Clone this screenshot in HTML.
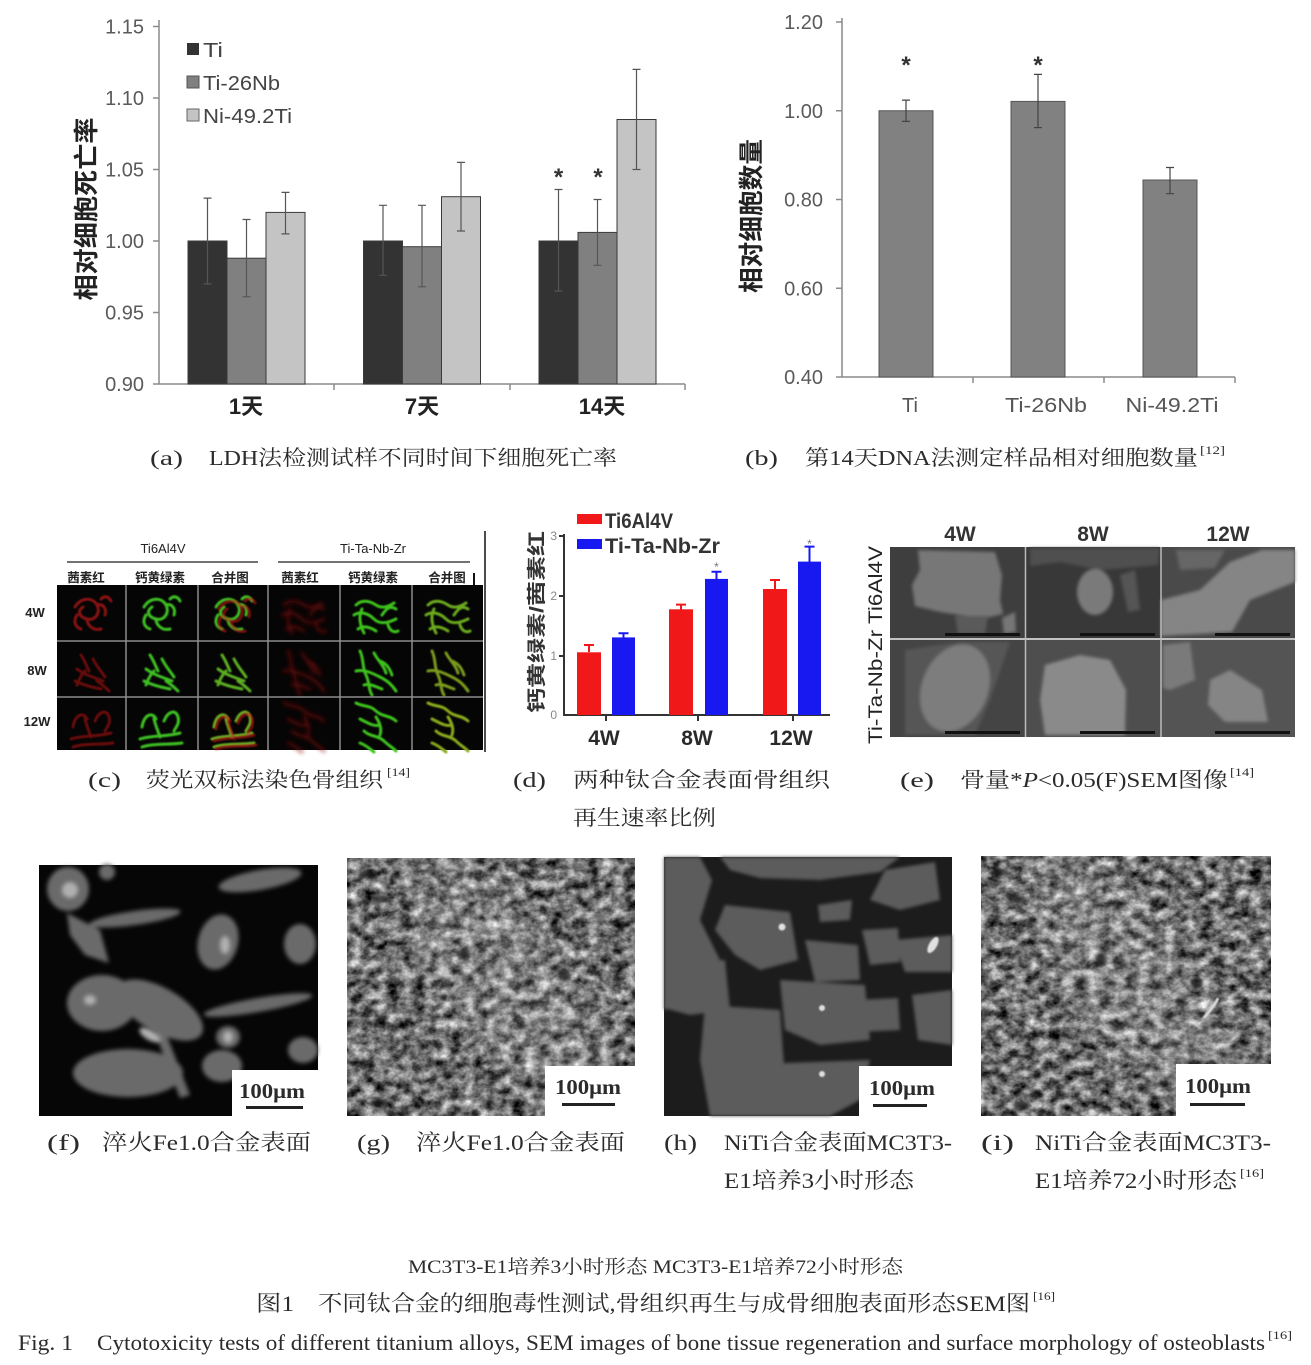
<!DOCTYPE html>
<html><head><meta charset="utf-8"><style>
html,body{margin:0;padding:0;background:#fff;}
svg{display:block;}
.s{font-family:"Liberation Sans","Noto Sans CJK SC",sans-serif;}
.c{font-family:"Liberation Serif","Noto Serif CJK SC",serif;fill:#2b2b2b;}
</style></head><body>
<svg width="1311" height="1365" viewBox="0 0 1311 1365" xmlns="http://www.w3.org/2000/svg">
<defs>
<filter id="b08" x="-20%" y="-20%" width="140%" height="140%"><feGaussianBlur stdDeviation="0.8"/></filter>
<filter id="b15" x="-20%" y="-20%" width="140%" height="140%"><feGaussianBlur stdDeviation="1.5"/></filter>
<filter id="b2" x="-20%" y="-20%" width="140%" height="140%"><feGaussianBlur stdDeviation="2.2"/></filter>
<filter id="b12" x="-50%" y="-50%" width="200%" height="200%"><feGaussianBlur stdDeviation="14"/></filter>
<filter id="nz" x="0" y="0" width="1" height="1" color-interpolation-filters="sRGB">
<feTurbulence type="fractalNoise" baseFrequency="0.08 0.1" numOctaves="4" seed="4"/>
<feColorMatrix type="matrix" values="1.3 0 0 0 -0.22  1.3 0 0 0 -0.22  1.3 0 0 0 -0.22  0 0 0 0 1"/>
</filter>
<filter id="nz2" x="0" y="0" width="1" height="1" color-interpolation-filters="sRGB">
<feTurbulence type="fractalNoise" baseFrequency="0.08 0.1" numOctaves="4" seed="11"/>
<feColorMatrix type="matrix" values="1.3 0 0 0 -0.22  1.3 0 0 0 -0.22  1.3 0 0 0 -0.22  0 0 0 0 1"/>
</filter>
<g id="A4" fill="none" stroke-width="3" stroke-linecap="round"><path d="M18,22 C24,12 36,12 40,20 C44,28 38,36 30,34 C22,32 20,26 26,22 M40,20 C46,18 50,24 48,30 M30,34 C30,40 36,46 44,44 M20,30 C16,36 18,42 24,44 M44,14 C48,10 52,12 54,16"/></g>
<g id="A8" fill="none" stroke-width="3" stroke-linecap="round"><path d="M24,14 C28,20 30,26 32,30 M20,28 C28,34 36,36 46,40 M18,40 C26,44 34,46 44,48 M36,18 C40,26 44,30 48,36 M28,30 C24,34 22,38 20,44 M40,40 C46,44 50,48 52,50"/></g>
<g id="A12" fill="none" stroke-width="3" stroke-linecap="round"><path d="M16,30 C18,18 26,14 30,22 M14,42 C26,38 40,40 54,36 M16,50 C28,46 44,48 56,46 M38,24 C42,14 50,12 52,20 C54,26 50,30 48,34 M28,22 C30,30 32,34 34,40"/></g>
<g id="B4" fill="none" stroke-width="3" stroke-linecap="round"><path d="M16,20 C22,14 30,16 36,20 C42,24 48,22 54,18 M14,30 C20,26 28,28 34,34 C40,40 48,38 56,34 M18,44 C24,40 30,42 36,46 M42,30 C46,24 50,20 56,24 M22,24 C18,32 20,40 24,48 M48,40 C50,46 54,48 58,46"/></g>
<g id="B8" fill="none" stroke-width="3" stroke-linecap="round"><path d="M20,10 C24,18 22,26 26,34 C30,42 28,48 32,54 M34,12 C38,20 44,24 46,32 M16,30 C24,28 32,32 40,36 C48,40 52,44 56,50 M40,20 C46,22 50,28 52,34 M24,44 C30,42 36,46 42,48"/></g>
<g id="B12" fill="none" stroke-width="3" stroke-linecap="round"><path d="M16,6 C24,10 30,8 36,14 C42,20 50,18 56,24 M20,22 C28,26 34,30 40,28 M24,34 C30,40 38,38 44,44 C48,48 52,50 56,54 M36,20 C40,26 42,32 40,38 M20,46 C26,48 30,52 34,55"/></g>
</defs>
<rect width="1311" height="1365" fill="#fff"/>

<!-- ===== Chart (a) ===== -->
<g class="s">
<g stroke="#8a8a8a" stroke-width="1.5" fill="none">
<line x1="159" y1="20" x2="159" y2="384"/>
<line x1="159" y1="384" x2="685" y2="384"/>
<line x1="153" y1="26.5" x2="159" y2="26.5"/><line x1="153" y1="98" x2="159" y2="98"/><line x1="153" y1="169.5" x2="159" y2="169.5"/><line x1="153" y1="241" x2="159" y2="241"/><line x1="153" y1="312.5" x2="159" y2="312.5"/><line x1="153" y1="384" x2="159" y2="384"/>
<line x1="334" y1="384" x2="334" y2="390"/><line x1="510" y1="384" x2="510" y2="390"/><line x1="685" y1="384" x2="685" y2="390"/>
</g>
<g fill="#5a5a5a" font-size="20" text-anchor="end">
<text x="144" y="33.5">1.15</text><text x="144" y="105">1.10</text><text x="144" y="176.5">1.05</text><text x="144" y="248">1.00</text><text x="144" y="319.5">0.95</text><text x="144" y="391">0.90</text>
</g>
<g stroke="#3a3a3a" stroke-width="1">
<rect x="188" y="241" width="39" height="143" fill="#333"/>
<rect x="227" y="258.2" width="39" height="125.8" fill="#808080"/>
<rect x="266" y="212.4" width="39" height="171.6" fill="#c4c4c4"/>
<rect x="363.5" y="241" width="39" height="143" fill="#333"/>
<rect x="402.5" y="246.7" width="39" height="137.3" fill="#808080"/>
<rect x="441.5" y="196.7" width="39" height="187.3" fill="#c4c4c4"/>
<rect x="539" y="241" width="39" height="143" fill="#333"/>
<rect x="578" y="232.4" width="39" height="151.6" fill="#808080"/>
<rect x="617" y="119.5" width="39" height="264.5" fill="#c4c4c4"/>
</g>
<g stroke="#555" stroke-width="1.2" fill="none">
<path d="M207.5,198.1V283.9M203.5,198.1h8M203.5,283.9h8"/>
<path d="M246.5,219.5V296.8M242.5,219.5h8M242.5,296.8h8"/>
<path d="M285.5,192.4V233.9M281.5,192.4h8M281.5,233.9h8"/>
<path d="M383,205.3V275.3M379,205.3h8M379,275.3h8"/>
<path d="M422,205.3V286.8M418,205.3h8M418,286.8h8"/>
<path d="M461,162.4V231M457,162.4h8M457,231h8"/>
<path d="M558.5,189.5V291M554.5,189.5h8M554.5,291h8"/>
<path d="M597.5,199.5V265.3M593.5,199.5h8M593.5,265.3h8"/>
<path d="M636.5,69.4V169.5M632.5,69.4h8M632.5,169.5h8"/>
</g>
<g font-size="24" font-weight="bold" fill="#333" text-anchor="middle">
<text x="558.5" y="185">*</text><text x="598" y="185">*</text>
</g>
<rect x="187" y="43" width="12" height="12" fill="#333"/>
<rect x="187" y="76" width="12" height="12" fill="#808080" stroke="#555" stroke-width="1"/>
<rect x="187" y="109" width="12" height="12" fill="#c4c4c4" stroke="#666" stroke-width="1"/>
<g fill="#444" font-size="20">
<text x="203" y="57" textLength="20" lengthAdjust="spacingAndGlyphs">Ti</text>
<text x="203" y="90" textLength="77" lengthAdjust="spacingAndGlyphs">Ti-26Nb</text>
<text x="203" y="123" textLength="89" lengthAdjust="spacingAndGlyphs">Ni-49.2Ti</text>
</g>
<g font-size="22" font-weight="bold" fill="#222" text-anchor="middle">
<text x="246" y="414">1天</text><text x="422" y="414">7天</text><text x="602" y="414">14天</text>
</g>
<text transform="translate(95,209) rotate(-90)" font-size="25" font-weight="bold" fill="#222" text-anchor="middle" textLength="183" lengthAdjust="spacingAndGlyphs">相对细胞死亡率</text>
</g>

<!-- ===== Chart (b) ===== -->
<g class="s">
<g stroke="#8a8a8a" stroke-width="1.5" fill="none">
<line x1="842" y1="18" x2="842" y2="377"/>
<line x1="842" y1="377" x2="1235" y2="377"/>
<line x1="836" y1="22" x2="842" y2="22"/><line x1="836" y1="110.75" x2="842" y2="110.75"/><line x1="836" y1="199.5" x2="842" y2="199.5"/><line x1="836" y1="288.25" x2="842" y2="288.25"/><line x1="836" y1="377" x2="842" y2="377"/>
<line x1="973" y1="377" x2="973" y2="383"/><line x1="1104" y1="377" x2="1104" y2="383"/><line x1="1235" y1="377" x2="1235" y2="383"/>
</g>
<g fill="#5a5a5a" font-size="20" text-anchor="end">
<text x="823" y="29">1.20</text><text x="823" y="117.75">1.00</text><text x="823" y="206.5">0.80</text><text x="823" y="295.25">0.60</text><text x="823" y="384">0.40</text>
</g>
<g stroke="#555" stroke-width="1" fill="#818181">
<rect x="879" y="110.75" width="54" height="266.25"/>
<rect x="1011" y="101.4" width="54" height="275.6"/>
<rect x="1143" y="180" width="54" height="197"/>
</g>
<g stroke="#444" stroke-width="1.2" fill="none">
<path d="M906,100.1V121.4M902,100.1h8M902,121.4h8"/>
<path d="M1038,74.4V127.6M1034,74.4h8M1034,127.6h8"/>
<path d="M1170,167.5V193.7M1166,167.5h8M1166,193.7h8"/>
</g>
<g font-size="24" font-weight="bold" fill="#333" text-anchor="middle">
<text x="906" y="73">*</text><text x="1038" y="73">*</text>
</g>
<g fill="#555" font-size="20" text-anchor="middle">
<text x="910" y="412">Ti</text>
<text x="1046" y="412" textLength="82" lengthAdjust="spacingAndGlyphs">Ti-26Nb</text>
<text x="1172" y="412" textLength="93" lengthAdjust="spacingAndGlyphs">Ni-49.2Ti</text>
</g>
<text transform="translate(760,216) rotate(-90)" font-size="25" font-weight="bold" fill="#222" text-anchor="middle" textLength="154" lengthAdjust="spacingAndGlyphs">相对细胞数量</text>
</g>

<!-- Captions row 1 -->
<g class="c" font-size="21">
<text x="150" y="465" textLength="33" lengthAdjust="spacingAndGlyphs">(a)</text>
<text x="209" y="465" textLength="408" lengthAdjust="spacingAndGlyphs">LDH法检测试样不同时间下细胞死亡率</text>
<text x="745" y="465" textLength="33" lengthAdjust="spacingAndGlyphs">(b)</text>
<text x="805" y="465" textLength="393" lengthAdjust="spacingAndGlyphs">第14天DNA法测定样品相对细胞数量</text>
<text x="1200" y="454" font-size="12" textLength="25" lengthAdjust="spacingAndGlyphs">[12]</text>
</g>

<!-- ===== Panel (c) ===== -->
<g class="s">
<text x="163" y="553" font-size="13" text-anchor="middle" fill="#222">Ti6Al4V</text>
<text x="373" y="553" font-size="13" text-anchor="middle" fill="#222">Ti-Ta-Nb-Zr</text>
<line x1="67" y1="562" x2="258" y2="562" stroke="#444" stroke-width="1.5"/>
<line x1="278" y1="562" x2="470" y2="562" stroke="#444" stroke-width="1.5"/>
<g font-size="12.5" font-weight="bold" fill="#222" text-anchor="middle">
<text x="86" y="582">茜素红</text><text x="160" y="582">钙黄绿素</text><text x="230" y="582">合并图</text>
<text x="300" y="582">茜素红</text><text x="373" y="582">钙黄绿素</text><text x="447" y="582">合并图</text>
</g>
<line x1="474" y1="573" x2="474" y2="585" stroke="#111" stroke-width="2"/>
<line x1="485" y1="531" x2="485" y2="752" stroke="#111" stroke-width="1.5"/>
<g font-size="13" font-weight="bold" fill="#222" text-anchor="middle">
<text x="35" y="617">4W</text><text x="37" y="675">8W</text><text x="37" y="726">12W</text>
</g>
<rect x="57" y="585" width="426" height="165" fill="#050505"/>
<g filter="url(#b08)" opacity="0.75">
<use href="#A4" x="57" y="585" stroke="#b51515"/>
<use href="#A8" x="57" y="641" stroke="#8a1010"/>
<use href="#A12" x="57" y="697" stroke="#8a1010"/>
</g>
<g filter="url(#b08)">
<use href="#A4" x="126" y="585" stroke="#3cbf22"/>
<use href="#A8" x="126" y="641" stroke="#3cbf22"/>
<use href="#A12" x="126" y="697" stroke="#3cbf22"/>
<use href="#A4" x="198" y="585" stroke="#3cbf22"/>
<use href="#A8" x="198" y="641" stroke="#5cae20"/>
<use href="#A12" x="198" y="697" stroke="#6ab020"/>
</g>
<g filter="url(#b08)" opacity="0.55">
<use href="#A4" x="201" y="587" stroke="#d01818"/>
<use href="#A12" x="200" y="699" stroke="#d01818"/>
</g>
<g filter="url(#b2)" opacity="0.6">
<use href="#B4" x="268" y="585" stroke="#8a1010"/>
<use href="#B8" x="268" y="641" stroke="#8a1010"/>
<use href="#B12" x="268" y="697" stroke="#8a1010"/>
</g>
<g filter="url(#b08)">
<use href="#B4" x="340" y="585" stroke="#3cc21e"/>
<use href="#B8" x="340" y="641" stroke="#3cc21e"/>
<use href="#B12" x="340" y="697" stroke="#3cc21e"/>
<use href="#B4" x="412" y="585" stroke="#6aaa1e"/>
<use href="#B8" x="412" y="641" stroke="#7a9a1e"/>
<use href="#B12" x="412" y="697" stroke="#8aaa1e"/>
</g>
<g stroke="#8c8c8c" stroke-width="1.5">
<line x1="126" y1="585" x2="126" y2="750"/><line x1="198" y1="585" x2="198" y2="750"/><line x1="268" y1="585" x2="268" y2="750"/><line x1="340" y1="585" x2="340" y2="750"/><line x1="412" y1="585" x2="412" y2="750"/>
<line x1="57" y1="641" x2="483" y2="641"/><line x1="57" y1="697" x2="483" y2="697"/>
</g>
</g>

<!-- ===== Chart (d) ===== -->
<g class="s">
<rect x="577" y="514" width="25" height="10" fill="#f01818"/>
<rect x="577" y="539" width="25" height="10" fill="#1818f0"/>
<g font-size="21" font-weight="bold" fill="#333">
<text x="605" y="528" textLength="68" lengthAdjust="spacingAndGlyphs">Ti6Al4V</text>
<text x="605" y="553" textLength="115" lengthAdjust="spacingAndGlyphs">Ti-Ta-Nb-Zr</text>
</g>
<g stroke="#333" stroke-width="2" fill="none">
<line x1="564" y1="534" x2="564" y2="716"/>
<line x1="563" y1="715" x2="830" y2="715"/>
<line x1="559" y1="536" x2="564" y2="536"/><line x1="559" y1="596" x2="564" y2="596"/><line x1="559" y1="656" x2="564" y2="656"/>
<line x1="606" y1="715" x2="606" y2="721"/><line x1="698" y1="715" x2="698" y2="721"/><line x1="793" y1="715" x2="793" y2="721"/>
</g>
<g font-size="12" fill="#888" text-anchor="end">
<text x="557" y="540">3</text><text x="557" y="600">2</text><text x="557" y="660">1</text><text x="557" y="719">0</text>
</g>
<g fill="#f01818">
<rect x="577" y="652.3" width="24" height="62.7"/>
<rect x="669" y="609.3" width="24" height="105.7"/>
<rect x="763" y="589" width="24" height="126"/>
</g>
<g fill="#1818f0">
<rect x="612" y="637.4" width="23" height="77.6"/>
<rect x="705" y="578.9" width="23" height="136.1"/>
<rect x="798" y="561.6" width="23" height="153.4"/>
</g>
<g stroke-width="2" fill="none">
<path d="M589,645V652M584,645h10M681,604.6V610M676,604.6h10M775,580V589M770,580h10" stroke="#f01818"/>
<path d="M623.5,633.2V638M618.5,633.2h10M716.5,571.7V579M711.5,571.7h10M809.5,546.6V562M804.5,546.6h10" stroke="#1818f0"/>
</g>
<g font-size="12" fill="#777" text-anchor="middle">
<text x="716.5" y="571">*</text><text x="809.5" y="548">*</text>
</g>
<g font-size="21" font-weight="bold" fill="#2a2a2a" text-anchor="middle">
<text x="604" y="745">4W</text><text x="697" y="745">8W</text><text x="791" y="745">12W</text>
</g>
<text transform="translate(543,622) rotate(-90)" font-size="19" font-weight="bold" fill="#333" text-anchor="middle" textLength="182" lengthAdjust="spacingAndGlyphs">钙黄绿素/茜素红</text>
</g>

<!-- ===== Panel (e) ===== -->
<g class="s">
<g font-size="21" font-weight="bold" fill="#333" text-anchor="middle">
<text x="960" y="541">4W</text><text x="1093" y="541">8W</text><text x="1228" y="541">12W</text>
</g>
<text transform="translate(882,645) rotate(-90)" font-size="19" fill="#222" text-anchor="middle" textLength="198" lengthAdjust="spacingAndGlyphs">Ti-Ta-Nb-Zr Ti6Al4V</text>
<rect x="890" y="547" width="405" height="190" fill="#d8d8d8"/>
<rect x="890" y="547" width="135" height="91" fill="#3e3e3e"/>
<rect x="1025.5" y="547" width="135" height="91" fill="#383838"/>
<rect x="1161" y="547" width="134" height="91" fill="#4a4a4a"/>
<g filter="url(#b15)">
<path d="M918,550 L995,552 L1002,575 L1000,600 L1003,614 L985,618 L960,615 L940,612 L915,606 L912,585 L920,570 Z" fill="#777"/>
<path d="M955,616 L988,616 L985,634 L958,634 Z" fill="#5a5a5a"/>
<path d="M1002,618 L1015,612 L1016,632 L1004,634 Z" fill="#767676"/>
<path d="M1030,548 L1160,548 L1158,565 L1100,570 L1060,562 L1030,566 Z" fill="#505050"/>
<ellipse cx="1095" cy="592" rx="18" ry="23" fill="#7a7a7a"/>
<path d="M1120,575 L1135,570 L1140,610 L1128,612 Z" fill="#555"/>
<path d="M1161,620 L1161,600 L1200,590 L1230,562 L1262,550 L1295,550 L1295,582 L1250,600 L1232,632 L1161,636 Z" fill="#858585"/>
<path d="M1176,550 L1225,550 L1215,568 L1180,570 Z" fill="#666"/>
</g>
<rect x="890" y="640" width="135" height="97" fill="#444"/>
<rect x="1025.5" y="640" width="135" height="97" fill="#4e4e4e"/>
<rect x="1161" y="640" width="134" height="97" fill="#545454"/>
<g filter="url(#b15)">
<path d="M905,650 L960,642 L1010,642 L990,700 L975,735 L905,735 Z" fill="#565656"/>
<ellipse cx="955" cy="688" rx="33" ry="45" transform="rotate(22 955 688)" fill="#7d7d7d"/>
<path d="M1045,665 L1080,655 L1110,660 L1126,690 L1125,735 L1045,735 L1040,700 Z" fill="#8a8a8a"/>
<path d="M1163,645 L1190,642 L1195,680 L1170,690 L1163,688 Z" fill="#7a7a7a"/>
<path d="M1210,680 L1230,670 L1262,690 L1268,722 L1225,722 L1208,705 Z" fill="#858585"/>
</g>
<g fill="#111">
<rect x="945" y="633" width="75" height="3"/><rect x="1080" y="633" width="75" height="3"/><rect x="1215" y="633" width="75" height="3"/>
<rect x="945" y="731" width="75" height="3"/><rect x="1080" y="731" width="75" height="3"/><rect x="1215" y="731" width="75" height="3"/>
</g>
<g stroke="#bbb" stroke-width="1.5">
<line x1="890" y1="639" x2="1295" y2="639"/>
<line x1="1025.5" y1="547" x2="1025.5" y2="737"/><line x1="1161" y1="547" x2="1161" y2="737"/>
</g>
</g>

<!-- Captions row 2 -->
<g class="c" font-size="21">
<text x="88" y="787" textLength="33" lengthAdjust="spacingAndGlyphs">(c)</text>
<text x="146" y="787" textLength="237" lengthAdjust="spacingAndGlyphs">荧光双标法染色骨组织</text>
<text x="387" y="776" font-size="12" textLength="23" lengthAdjust="spacingAndGlyphs">[14]</text>
<text x="513" y="787" textLength="33" lengthAdjust="spacingAndGlyphs">(d)</text>
<text x="573" y="787" textLength="257" lengthAdjust="spacingAndGlyphs">两种钛合金表面骨组织</text>
<text x="573" y="825" textLength="143" lengthAdjust="spacingAndGlyphs">再生速率比例</text>
<text x="900" y="787" textLength="34" lengthAdjust="spacingAndGlyphs">(e)</text>
<text x="960" y="787" textLength="268" lengthAdjust="spacingAndGlyphs">骨量*<tspan font-style="italic">P</tspan>&lt;0.05(F)SEM图像</text>
<text x="1230" y="776" font-size="12" textLength="24" lengthAdjust="spacingAndGlyphs">[14]</text>
</g>

<!-- ===== (f) ===== -->
<rect x="39" y="865" width="279" height="251" fill="#060606"/>
<g filter="url(#b2)" fill="#6a6a6a">
<ellipse cx="68" cy="889" rx="21" ry="22"/>
<ellipse cx="107" cy="872" rx="8" ry="8"/>
<ellipse cx="260" cy="880" rx="42" ry="10" transform="rotate(-10 260 880)"/>
<ellipse cx="135" cy="918" rx="46" ry="7" transform="rotate(-8 135 918)"/>
<path d="M67,913 L100,930 L109,963 L85,955 L70,935 Z"/>
<ellipse cx="218" cy="942" rx="20" ry="28" transform="rotate(15 218 942)"/>
<ellipse cx="300" cy="944" rx="16" ry="20"/>
<ellipse cx="102" cy="1003" rx="35" ry="28"/>
<ellipse cx="160" cy="1010" rx="48" ry="22" transform="rotate(30 160 1010)"/>
<ellipse cx="258" cy="1005" rx="55" ry="7" transform="rotate(-10 258 1005)"/>
<ellipse cx="228" cy="1037" rx="12" ry="11"/>
<ellipse cx="128" cy="1073" rx="55" ry="24"/>
<ellipse cx="222" cy="1066" rx="20" ry="16"/>
<ellipse cx="303" cy="1050" rx="15" ry="13"/>
<path d="M150,1020 L160,1018 L190,1095 L180,1098 Z"/>
</g>
<g filter="url(#b2)" fill="#b0b0b0">
<ellipse cx="225" cy="945" rx="5" ry="9"/><ellipse cx="150" cy="1035" rx="12" ry="5" transform="rotate(30 150 1035)"/>
<ellipse cx="90" cy="1000" rx="6" ry="5"/><ellipse cx="228" cy="1037" rx="5" ry="6"/><ellipse cx="70" cy="890" rx="8" ry="8"/>
</g>
<rect x="232" y="1070" width="86" height="46" fill="#fff"/>
<text class="c" x="272" y="1098" font-size="21" font-weight="bold" fill="#111" text-anchor="middle" textLength="66" lengthAdjust="spacingAndGlyphs">100μm</text>
<rect x="246" y="1106" width="57" height="3" fill="#222"/>

<!-- ===== (g) ===== -->
<rect x="347" y="858" width="288" height="258" filter="url(#nz)"/>
<path d="M400,858 L470,858 L560,960 L620,1060 L560,1110 L470,1030 L420,960 Z" fill="#fff" opacity="0.14" filter="url(#b12)"/>
<g fill="#151515" opacity="0.75" filter="url(#b15)">
<ellipse cx="367" cy="875" rx="9" ry="4"/><ellipse cx="381" cy="899" rx="8" ry="4"/><ellipse cx="465" cy="953" rx="5" ry="7"/><ellipse cx="564" cy="974" rx="6" ry="6"/><ellipse cx="379" cy="1103" rx="8" ry="4"/>
</g>
<rect x="545" y="1066" width="90" height="50" fill="#fff"/>
<text class="c" x="588" y="1094" font-size="21" font-weight="bold" fill="#111" text-anchor="middle" textLength="66" lengthAdjust="spacingAndGlyphs">100μm</text>
<rect x="562" y="1103" width="53" height="3" fill="#222"/>

<!-- ===== (h) ===== -->
<rect x="664" y="857" width="288" height="259" fill="#1c1c1c"/>
<g filter="url(#b15)" fill="#5c5c5c">
<path d="M664,857 L700,857 L712,880 L700,920 L720,960 L700,1000 L664,1010 Z"/>
<path d="M720,857 L900,857 L880,872 L820,880 L760,878 L730,870 Z"/>
<path d="M885,870 L935,862 L940,900 L900,910 L870,900 Z"/>
<path d="M818,905 L852,900 L850,920 L820,922 Z"/>
<path d="M725,905 L790,912 L798,960 L760,970 L735,955 L715,930 Z"/>
<path d="M862,930 L898,928 L900,962 L870,965 Z"/>
<path d="M805,940 L858,945 L860,980 L815,982 Z"/>
<path d="M664,965 L725,960 L730,1010 L690,1015 L664,1008 Z"/>
<path d="M780,980 L865,985 L870,1040 L820,1045 L785,1030 Z"/>
<path d="M894,940 L952,935 L952,972 L905,972 Z"/>
<path d="M912,995 L952,990 L952,1045 L918,1040 Z"/>
<path d="M705,1005 L780,1010 L785,1080 L760,1116 L710,1116 L700,1060 Z"/>
<path d="M730,1065 L870,1060 L860,1100 L830,1116 L735,1116 Z"/>
<path d="M855,1000 L898,998 L900,1030 L860,1032 Z"/>
</g>
<g fill="#e0e0e0" filter="url(#b08)">
<circle cx="782" cy="927" r="3.5"/><ellipse cx="933" cy="945" rx="4" ry="9" transform="rotate(30 933 945)"/><circle cx="822" cy="1008" r="3"/><circle cx="822" cy="1074" r="3"/>
</g>
<rect x="859" y="1066" width="93" height="50" fill="#fff"/>
<text class="c" x="902" y="1095" font-size="21" font-weight="bold" fill="#111" text-anchor="middle" textLength="66" lengthAdjust="spacingAndGlyphs">100μm</text>
<rect x="873" y="1104" width="54" height="3" fill="#222"/>

<!-- ===== (i) ===== -->
<rect x="981" y="856" width="290" height="260" filter="url(#nz2)"/>
<path d="M1030,856 L1100,856 L1190,960 L1250,1060 L1190,1110 L1100,1030 L1050,960 Z" fill="#fff" opacity="0.14" filter="url(#b12)"/>
<g fill="#151515" opacity="0.75" filter="url(#b15)">
<ellipse cx="1000" cy="872" rx="9" ry="4"/><ellipse cx="1017" cy="899" rx="8" ry="4"/><ellipse cx="1101" cy="959" rx="5" ry="7"/><ellipse cx="1197" cy="983" rx="6" ry="6"/><ellipse cx="1021" cy="1106" rx="8" ry="4"/>
</g>
<path d="M1204,1018 C1210,1010 1216,1004 1218,998" stroke="#ddd" stroke-width="3" fill="none" filter="url(#b08)"/>
<rect x="1176" y="1064" width="95" height="52" fill="#fff"/>
<text class="c" x="1218" y="1093" font-size="21" font-weight="bold" fill="#111" text-anchor="middle" textLength="66" lengthAdjust="spacingAndGlyphs">100μm</text>
<rect x="1190" y="1103" width="55" height="3" fill="#222"/>

<!-- Captions row 3 -->
<g class="c" font-size="22">
<text x="47" y="1150" textLength="33" lengthAdjust="spacingAndGlyphs">(f)</text>
<text x="102" y="1150" textLength="209" lengthAdjust="spacingAndGlyphs">淬火Fe1.0合金表面</text>
<text x="357" y="1150" textLength="33" lengthAdjust="spacingAndGlyphs">(g)</text>
<text x="416" y="1150" textLength="209" lengthAdjust="spacingAndGlyphs">淬火Fe1.0合金表面</text>
<text x="664" y="1150" textLength="33" lengthAdjust="spacingAndGlyphs">(h)</text>
<text x="724" y="1150" textLength="228" lengthAdjust="spacingAndGlyphs">NiTi合金表面MC3T3-</text>
<text x="724" y="1188" textLength="190" lengthAdjust="spacingAndGlyphs">E1培养3小时形态</text>
<text x="981" y="1150" textLength="33" lengthAdjust="spacingAndGlyphs">(i)</text>
<text x="1035" y="1150" textLength="236" lengthAdjust="spacingAndGlyphs">NiTi合金表面MC3T3-</text>
<text x="1035" y="1188" textLength="202" lengthAdjust="spacingAndGlyphs">E1培养72小时形态</text>
<text x="1240" y="1177" font-size="12" textLength="24" lengthAdjust="spacingAndGlyphs">[16]</text>
</g>

<!-- Bottom captions -->
<g class="c">
<text x="408" y="1273" font-size="19" textLength="495" lengthAdjust="spacingAndGlyphs">MC3T3-E1培养3小时形态 MC3T3-E1培养72小时形态</text>
<text x="256" y="1311" font-size="22" textLength="38" lengthAdjust="spacingAndGlyphs">图1</text>
<text x="318" y="1311" font-size="22" textLength="712" lengthAdjust="spacingAndGlyphs">不同钛合金的细胞毒性测试,骨组织再生与成骨细胞表面形态SEM图</text>
<text x="1033" y="1300" font-size="12" textLength="22" lengthAdjust="spacingAndGlyphs">[16]</text>
<text x="18" y="1350" font-size="22" textLength="55" lengthAdjust="spacingAndGlyphs">Fig. 1</text>
<text x="97" y="1350" font-size="22" textLength="1168" lengthAdjust="spacingAndGlyphs">Cytotoxicity tests of different titanium alloys, SEM images of bone tissue regeneration and surface morphology of osteoblasts</text>
<text x="1268" y="1339" font-size="12" textLength="24" lengthAdjust="spacingAndGlyphs">[16]</text>
</g>
</svg>
</body></html>
